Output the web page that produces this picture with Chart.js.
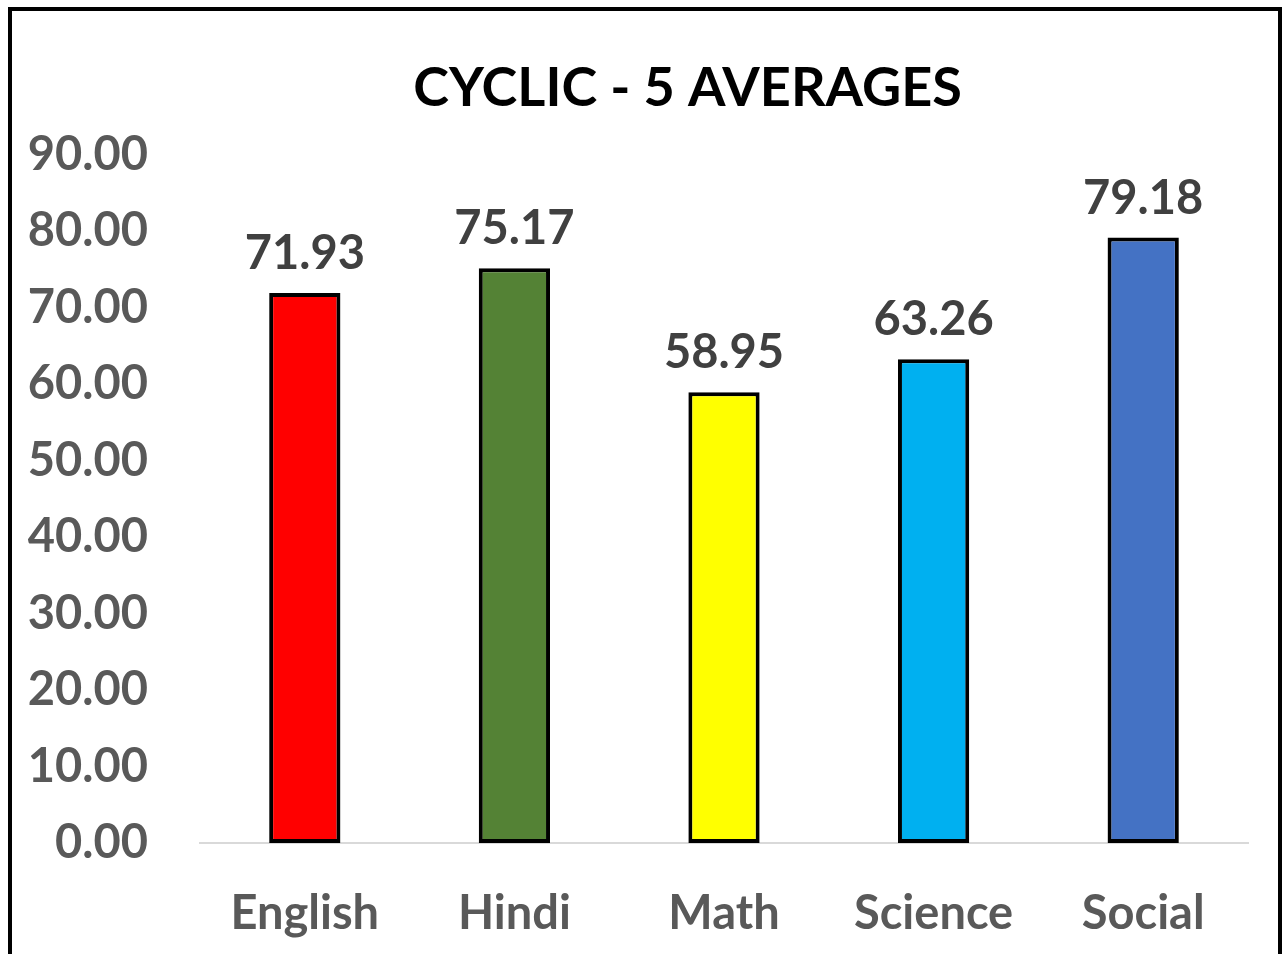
<!DOCTYPE html>
<html>
<head>
<meta charset="utf-8">
<script src="https://cdn.jsdelivr.net/npm/chart.js@4/dist/chart.umd.min.js"></script>
<style>
    body { margin: 0; background: #fff; overflow: hidden; }
    #wrap { position: relative; width: 1282px; height: 954px; }
    #frame {
        position: absolute; left: 8px; top: 7px;
        width: 1266px; height: 1000px;
        border: 4px solid #000;
        pointer-events: none;
    }
</style>
</head>
<body>
<div id="wrap">
    <canvas id="chart" width="1282" height="954"></canvas>
    <div id="frame"></div>
</div>
<script>
// Chart data
const subjects = ['English', 'Hindi', 'Math', 'Science', 'Social'];
const averages = [71.93, 75.17, 58.95, 63.26, 79.18];
const barColors = ['#FF0000', '#548235', '#FFFF00', '#00B0F0', '#4472C4'];
const yMin = 0;
const yMax = 90;
const yStep = 10;

// Draws the value above each bar
const valueLabels = {
    id: 'valueLabels',
    afterDatasetsDraw(chart) {
        const ctx = chart.ctx;
        const meta = chart.getDatasetMeta(0);
        ctx.save();
        ctx.font = 'bold 47px Lato';
        ctx.fillStyle = '#404040';
        ctx.textAlign = 'center';
        ctx.textBaseline = 'alphabetic';
        meta.data.forEach((bar, i) => {
            ctx.fillText(averages[i].toFixed(2), bar.x, bar.y - 24);
        });
        ctx.restore();
    }
};

// The original title sits a bit right of the canvas centre
const titleShift = {
    id: 'titleShift',
    afterLayout(chart) {
        if (chart.titleBlock) chart.titleBlock.left = 127;
    }
};

const ctx = document.getElementById('chart').getContext('2d');
new Chart(ctx, {
    type: 'bar',
    data: {
        labels: subjects,
        datasets: [{
            data: averages,
            backgroundColor: barColors,
            borderColor: '#000000',
            borderWidth: 4,
            borderSkipped: false,
            categoryPercentage: 1,
            barPercentage: 0.34,
        }],
    },
    options: {
        responsive: false,
        animation: false,
        layout: { padding: { top: 26, right: 34, bottom: 0, left: 0 } },
        plugins: {
            legend: { display: false },
            tooltip: { enabled: false },
            title: {
                display: true,
                text: 'CYCLIC - 5 AVERAGES',
                color: '#000000',
                font: { family: 'Lato', size: 54, weight: 'bold' },
                padding: { top: 30, bottom: 34 },
            },
        },
        scales: {
            x: {
                grid: { display: false, drawTicks: false },
                border: { display: true, color: '#D9D9D9', width: 2 },
                ticks: {
                    color: '#595959',
                    font: { family: 'Lato', size: 47, weight: 'bold' },
                    padding: 43,
                },
                afterFit(scale) { scale.height = 111; },
            },
            y: {
                min: yMin,
                max: yMax,
                grid: { display: false, drawTicks: false },
                border: { display: false },
                ticks: {
                    stepSize: yStep,
                    color: '#595959',
                    font: { family: 'Lato', size: 47, weight: 'bold' },
                    padding: 52,
                    callback: v => v.toFixed(2),
                },
                afterFit(scale) { scale.width = 200; },
            },
        },
    },
    plugins: [valueLabels, titleShift],
});
</script>
</body>
</html>
